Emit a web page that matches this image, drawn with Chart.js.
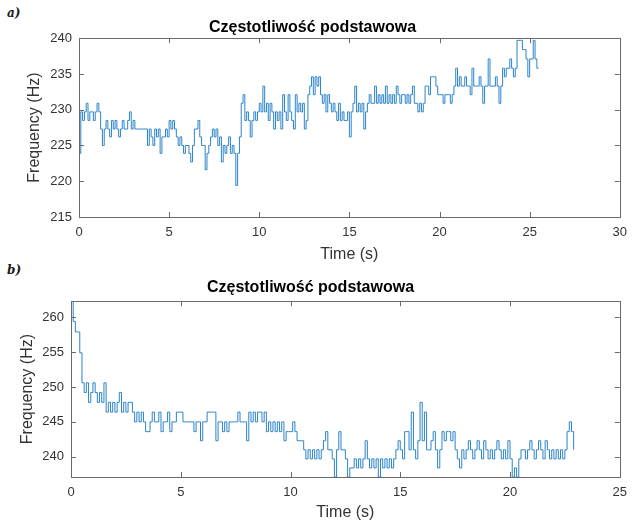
<!DOCTYPE html>
<html>
<head>
<meta charset="utf-8">
<script src="https://cdn.jsdelivr.net/npm/chart.js@4.4.1/dist/chart.umd.min.js"></script>
<style>
  html, body { margin: 0; padding: 0; background: #fff; }
  #wrap { position: relative; width: 635px; height: 522px; overflow: hidden; }
  canvas { position: absolute; left: 0; }
  .tag { position: absolute; left: 7px; font: italic bold 12px 'DejaVu Serif', 'Liberation Serif', serif; color: #1a1a1a; }
</style>
</head>
<body>
<div id="wrap">
  <div class="tag" style="top:6px">a)</div>
  <div class="tag" style="top:263px">b)</div>
  <canvas id="chartA" width="635" height="270" style="top:0"></canvas>
  <canvas id="chartB" width="635" height="260" style="top:262px"></canvas>
</div>
<script>
// Fundamental frequency (Hz), one value every 0.1 s
const sampleStep = 0.1;

const freqA = [
  223.9, 229.7, 228.5, 229.7, 230.9, 228.5, 229.7, 229.7, 228.5, 229.7,
  230.9, 229.7, 227.3, 225.0, 227.3, 228.5, 227.3, 226.2, 228.5, 227.3,
  228.5, 227.3, 226.2, 227.3, 228.5, 227.3, 227.3, 228.5, 229.7, 227.3,
  228.5, 227.3, 227.3, 227.3, 227.3, 227.3, 227.3, 227.3, 225.0, 227.3,
  226.2, 225.0, 227.3, 226.2, 227.3, 223.9, 226.2, 226.2, 227.3, 226.2,
  228.5, 227.3, 228.5, 227.3, 226.2, 225.0, 226.2, 225.0, 223.9, 225.0,
  225.0, 223.9, 222.7, 225.0, 227.3, 227.3, 228.5, 226.2, 225.0, 225.0,
  221.6, 223.9, 225.0, 226.2, 227.3, 226.2, 227.3, 225.0, 226.2, 222.7,
  225.0, 223.9, 225.0, 226.2, 223.9, 225.0, 223.9, 219.4, 223.9, 226.2,
  230.9, 232.1, 228.5, 229.7, 228.5, 226.2, 228.5, 229.7, 228.5, 229.7,
  230.9, 229.7, 233.3, 229.7, 230.9, 228.5, 230.9, 229.7, 227.3, 229.7,
  228.5, 229.7, 227.3, 232.1, 229.7, 228.5, 232.1, 229.7, 228.5, 227.3,
  232.1, 229.7, 230.9, 229.7, 230.9, 227.3, 228.5, 232.1, 233.3, 234.6,
  232.1, 234.6, 233.3, 234.6, 232.1, 230.9, 232.1, 229.7, 232.1, 230.9,
  229.7, 230.9, 229.7, 228.5, 230.9, 228.5, 229.7, 228.5, 228.5, 229.7,
  226.2, 229.7, 230.9, 233.3, 229.7, 230.9, 229.7, 230.9, 227.3, 229.7,
  230.9, 232.1, 230.9, 230.9, 233.3, 230.9, 232.1, 230.9, 232.1, 230.9,
  233.3, 230.9, 232.1, 230.9, 232.1, 230.9, 233.3, 232.1, 230.9, 232.1,
  232.1, 230.9, 232.1, 230.9, 232.1, 233.3, 230.9, 230.9, 229.7, 230.9,
  229.7, 230.9, 233.3, 233.3, 232.1, 234.6, 234.6, 234.6, 233.3, 232.1,
  232.1, 232.1, 230.9, 232.1, 232.1, 232.1, 230.9, 232.1, 233.3, 235.8,
  233.3, 234.6, 233.3, 233.3, 234.6, 233.3, 233.3, 232.1, 235.8, 233.3,
  233.3, 233.3, 234.6, 233.3, 230.9, 233.3, 233.3, 237.1, 233.3, 233.3,
  233.3, 234.6, 233.3, 230.9, 233.3, 235.8, 234.6, 235.8, 235.8, 237.1,
  235.8, 234.6, 235.8, 239.7, 239.7, 239.7, 238.4, 238.4, 237.1, 234.6,
  237.1, 237.1, 239.7, 237.1, 235.8, 235.8
];

const freqB = [
  262.5, 259.4, 257.9, 257.9, 254.9, 250.6, 249.2, 250.6, 247.8, 249.2,
  250.6, 249.2, 247.8, 249.2, 247.8, 250.6, 246.4, 247.8, 246.4, 247.8,
  246.4, 247.8, 249.2, 246.4, 247.8, 246.4, 247.8, 247.8, 246.4, 245.0,
  246.4, 245.0, 246.4, 245.0, 243.6, 243.6, 245.0, 246.4, 245.0, 245.0,
  246.4, 243.6, 245.0, 245.0, 246.4, 243.6, 245.0, 245.0, 246.4, 246.4,
  246.4, 245.0, 245.0, 245.0, 245.0, 245.0, 243.6, 245.0, 245.0, 242.3,
  245.0, 245.0, 246.4, 246.4, 246.4, 246.4, 242.3, 245.0, 245.0, 243.6,
  245.0, 243.6, 245.0, 245.0, 245.0, 245.0, 246.4, 245.0, 245.0, 245.0,
  242.3, 246.4, 245.0, 246.4, 245.0, 246.4, 246.4, 245.0, 246.4, 243.6,
  245.0, 243.6, 245.0, 243.6, 245.0, 243.6, 245.0, 242.3, 243.6, 243.6,
  243.6, 245.0, 243.6, 242.3, 242.3, 242.3, 241.0, 239.7, 241.0, 239.7,
  241.0, 239.7, 241.0, 239.7, 241.0, 242.3, 243.6, 241.0, 241.0, 239.7,
  237.1, 241.0, 243.6, 241.0, 241.0, 239.7, 237.1, 238.4, 238.4, 239.7,
  238.4, 239.7, 238.4, 239.7, 242.3, 239.7, 238.4, 239.7, 238.4, 239.7,
  237.1, 239.7, 238.4, 239.7, 238.4, 239.7, 238.4, 239.7, 241.0, 242.3,
  241.0, 239.7, 243.6, 243.6, 241.0, 246.4, 241.0, 239.7, 242.3, 247.8,
  242.3, 246.4, 241.0, 241.0, 242.3, 243.6, 241.0, 238.4, 241.0, 243.6,
  242.3, 243.6, 243.6, 242.3, 243.6, 241.0, 239.7, 238.4, 241.0, 239.7,
  241.0, 242.3, 241.0, 239.7, 241.0, 242.3, 241.0, 239.7, 242.3, 241.0,
  239.7, 241.0, 239.7, 241.0, 242.3, 241.0, 239.7, 241.0, 239.7, 242.3,
  239.7, 237.1, 238.4, 237.1, 239.7, 241.0, 241.0, 239.7, 241.0, 242.3,
  241.0, 239.7, 241.0, 242.3, 241.0, 239.7, 242.3, 241.0, 239.7, 241.0,
  239.7, 241.0, 239.7, 241.0, 239.7, 241.0, 243.6, 245.0, 243.6, 241.0
];

// Tick labels
const xTicksA = [0, 5, 10, 15, 20, 25, 30];
const yTicksA = [215, 220, 225, 230, 235, 240];
const xTicksB = [0, 5, 10, 15, 20, 25];
const yTicksB = [240, 245, 250, 255, 260];

const chartTitle = 'Częstotliwość podstawowa';
const FONT = "'Liberation Sans', Arial, Helvetica, sans-serif";
const AXIS_COLOR = '#6a6a6a';
const TEXT_COLOR = '#333333';
const LINE_COLOR = '#2c84cb';

// MATLAB-like box with inward tick marks on all four sides
const matlabBox = {
  id: 'matlabBox',
  afterDraw(chart) {
    const { ctx, chartArea: a, scales: { x, y } } = chart;
    const len = 5;
    ctx.save();
    ctx.strokeStyle = AXIS_COLOR;
    ctx.lineWidth = 1;
    ctx.strokeRect(Math.round(a.left) + 0.5, Math.round(a.top) + 0.5,
      Math.round(a.right - a.left), Math.round(a.bottom - a.top));
    ctx.beginPath();
    x.ticks.forEach(t => {
      const px = Math.round(x.getPixelForValue(t.value)) + 0.5;
      ctx.moveTo(px, a.bottom); ctx.lineTo(px, a.bottom - len);
      ctx.moveTo(px, a.top); ctx.lineTo(px, a.top + len);
    });
    y.ticks.forEach(t => {
      const py = Math.round(y.getPixelForValue(t.value)) + 0.5;
      ctx.moveTo(a.left, py); ctx.lineTo(a.left + len, py);
      ctx.moveTo(a.right, py); ctx.lineTo(a.right - len, py);
    });
    ctx.stroke();
    ctx.restore();
  }
};

function makeChart(canvasId, freq, opts) {
  const points = freq.map((v, i) => ({ x: i * sampleStep, y: v }));
  return new Chart(document.getElementById(canvasId), {
    type: 'line',
    data: {
      datasets: [{
        data: points,
        borderColor: LINE_COLOR,
        borderWidth: 1,
        pointRadius: 0,
        stepped: true,
        fill: false,
      }]
    },
    options: {
      responsive: false,
      animation: false,
      devicePixelRatio: 1,
      layout: { padding: { left: 0, right: opts.padRight, top: 0, bottom: 0 } },
      plugins: {
        legend: { display: false },
        tooltip: { enabled: false },
        title: {
          display: true,
          text: chartTitle,
          color: '#000',
          font: { family: FONT, size: 16, weight: 'bold' },
          padding: opts.titlePad,
        },
      },
      scales: {
        x: {
          type: 'linear',
          min: opts.xMin, max: opts.xMax,
          afterBuildTicks: s => { s.ticks = opts.xTicks.map(v => ({ value: v })); },
          afterFit: s => { s.height = opts.xHeight; },
          grid: { display: false, drawTicks: false },
          border: { display: false },
          ticks: { color: TEXT_COLOR, padding: 8, maxRotation: 0,
                   font: { family: FONT, size: 13 } },
          title: { display: true, text: 'Time (s)', color: TEXT_COLOR,
                   font: { family: FONT, size: 16 }, padding: { top: 0, bottom: opts.xTitleBottom } },
        },
        y: {
          type: 'linear',
          min: opts.yMin, max: opts.yMax,
          afterBuildTicks: s => { s.ticks = opts.yTicks.map(v => ({ value: v })); },
          afterFit: s => { s.width = opts.yWidth; },
          grid: { display: false, drawTicks: false },
          border: { display: false },
          ticks: { color: TEXT_COLOR, padding: 7, font: { family: FONT, size: 13 } },
          title: { display: true, text: 'Frequency (Hz)', color: TEXT_COLOR,
                   font: { family: FONT, size: 16 }, padding: { top: opts.yTitleLeft, bottom: 0 } },
        },
      },
    },
    plugins: [matlabBox],
  });
}

makeChart('chartA', freqA, {
  xMin: 0, xMax: 30, yMin: 215, yMax: 240,
  xTicks: xTicksA, yTicks: yTicksA,
  padRight: 10, yWidth: 79, xHeight: 53,
  titlePad: { top: 18, bottom: 1 },
  xTitleBottom: 6, yTitleLeft: 25,
});

makeChart('chartB', freqB, {
  xMin: 0, xMax: 25, yMin: 237.1, yMax: 262.3,
  xTicks: xTicksB, yTicks: yTicksB,
  padRight: 14, yWidth: 71, xHeight: 45,
  titlePad: { top: 16, bottom: 4 },
  xTitleBottom: 0, yTitleLeft: 18,
});
</script>
</body>
</html>
